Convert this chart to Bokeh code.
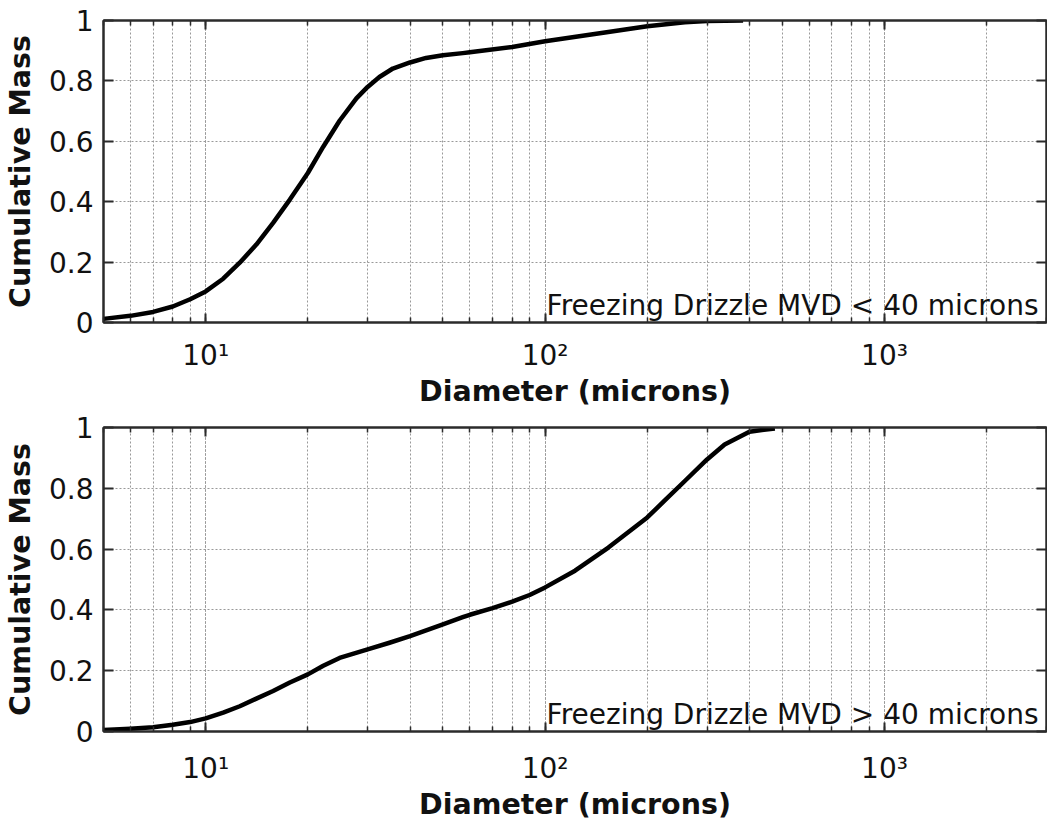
from bokeh.plotting import figure
from bokeh.models import (LogAxis, LinearAxis, FixedTicker, LogTicker,
                          CustomJSTickFormatter, Label, Range1d, ColumnDataSource)
from bokeh.layouts import column
from bokeh.embed import file_html
from bokeh.resources import INLINE

# ---- data ----
diam_top = [5, 6, 7, 8, 9, 10, 11.26, 12.6, 14.1, 15.8, 17.7, 20, 22.2, 24.8, 27.8,
            30, 32.5, 35.6, 40, 44.6, 50, 57.2, 60, 80, 100, 150, 200, 258, 300, 383]
mass_top = [0.012, 0.022, 0.035, 0.053, 0.077, 0.103, 0.145, 0.198, 0.258, 0.330,
            0.407, 0.495, 0.582, 0.668, 0.742, 0.780, 0.813, 0.841, 0.861, 0.876,
            0.885, 0.892, 0.895, 0.912, 0.931, 0.960, 0.981, 0.994, 0.998, 1.0]

diam_bot = [5, 6, 7, 8, 9, 10, 11.26, 12.6, 14.1, 15.8, 17.7, 20, 22.2, 24.8, 30,
            34.8, 40, 50, 57.2, 60, 70, 80, 90, 100, 122.5, 153.6, 200, 225.6, 258,
            300, 338, 400, 475]
mass_bot = [0.005, 0.009, 0.014, 0.022, 0.031, 0.043, 0.062, 0.083, 0.108, 0.133,
            0.161, 0.188, 0.216, 0.242, 0.270, 0.292, 0.314, 0.352, 0.376, 0.384,
            0.406, 0.427, 0.449, 0.474, 0.529, 0.605, 0.704, 0.761, 0.824, 0.895,
            0.944, 0.986, 0.997]

y_ticks = [0, 0.2, 0.4, 0.6, 0.8, 1]
x_limits = (5, 3000)
y_limits = (0, 1)
x_title = "Diameter (microns)"
y_title = "Cumulative Mass"
notes = ["Freezing Drizzle MVD < 40 microns", "Freezing Drizzle MVD > 40 microns"]

FONT = "DejaVu Sans"
AX_COLOR = "#2b2b2b"
GRID_COLOR = "#999999"

sup_code = """
const e = Math.round(Math.log10(tick));
const sup = {'0':'\u2070','1':'\u00b9','2':'\u00b2','3':'\u00b3','4':'\u2074',
             '5':'\u2075','6':'\u2076','7':'\u2077','8':'\u2078','9':'\u2079','-':'\u207b'};
return '10' + String(e).split('').map(c => sup[c]).join('');
"""
ylab_code = "return (Math.round(tick*10)/10).toString();"


def style_axis(ax, show_labels, major_in, minor_in):
    ax.major_tick_in = major_in
    ax.major_tick_out = 0
    ax.minor_tick_in = minor_in
    ax.minor_tick_out = 0
    ax.major_tick_line_width = 2
    ax.minor_tick_line_width = 1.5
    ax.major_tick_line_color = AX_COLOR
    ax.minor_tick_line_color = AX_COLOR
    ax.axis_line_color = AX_COLOR
    ax.axis_line_width = 2
    if show_labels:
        ax.major_label_text_font = FONT
        ax.major_label_text_font_size = "28px"
        ax.major_label_text_color = "#111111"
        ax.axis_label_text_font = FONT
        ax.axis_label_text_font_size = "28.5px"
        ax.axis_label_text_font_style = "bold"
        ax.axis_label_text_color = "#111111"
    else:
        ax.major_label_text_font_size = "1px"
        ax.major_label_text_alpha = 0
        ax.major_label_standoff = 0


def make_panel(xs, ys, note, height, border_top, border_bottom, tick_standoff):
    p = figure(width=1047, height=height, x_axis_type="log",
               x_range=Range1d(*x_limits), y_range=Range1d(*y_limits),
               output_backend="svg", toolbar_location=None, min_border=0)
    p.min_border_left = 101
    p.min_border_right = 1
    p.min_border_top = border_top
    p.min_border_bottom = border_bottom
    p.background_fill_color = "white"
    p.border_fill_color = "white"
    p.outline_line_color = AX_COLOR
    p.outline_line_width = 2

    xticker = LogTicker(num_minor_ticks=10)
    yticker = FixedTicker(ticks=y_ticks)

    xb = p.xaxis[0]
    xb.ticker = xticker
    xb.formatter = CustomJSTickFormatter(code=sup_code)
    style_axis(xb, True, 9, 5)
    xb.axis_label = x_title
    xb.major_label_standoff = tick_standoff
    xb.axis_label_standoff = 0

    yl = p.yaxis[0]
    yl.ticker = yticker
    yl.formatter = CustomJSTickFormatter(code=ylab_code)
    style_axis(yl, True, 10, 0)
    yl.axis_label = y_title
    yl.major_label_standoff = 10
    yl.axis_label_standoff = 9

    xt = LogAxis(ticker=xticker)
    style_axis(xt, False, 9, 5)
    p.add_layout(xt, "above")

    yr = LinearAxis(ticker=yticker)
    style_axis(yr, False, 10, 0)
    p.add_layout(yr, "right")

    p.xgrid.ticker = xticker
    p.ygrid.ticker = yticker
    for g in (p.xgrid, p.ygrid):
        g.grid_line_color = GRID_COLOR
        g.grid_line_dash = "2 2"
        g.grid_line_width = 1
    p.xgrid.minor_grid_line_color = GRID_COLOR
    p.xgrid.minor_grid_line_dash = "2 2"
    p.xgrid.minor_grid_line_width = 1

    src = ColumnDataSource(dict(x=xs, y=ys))
    p.line("x", "y", source=src, line_width=4.5, line_color="black",
           line_join="round")

    p.add_layout(Label(x=x_limits[1], y=y_limits[0], x_offset=-8, y_offset=17,
                       text=note, text_align="right", text_baseline="alphabetic",
                       text_font=FONT, text_font_size="28px", text_color="#111111"))
    return p


p1 = make_panel(diam_top, mass_top, notes[0], 410, 20, 87, 16)
p2 = make_panel(diam_bot, mass_bot, notes[1], 413, 17, 92, 20)
layout = column(p1, p2, spacing=0)

open("out.html", "w").write(file_html(layout, INLINE))
